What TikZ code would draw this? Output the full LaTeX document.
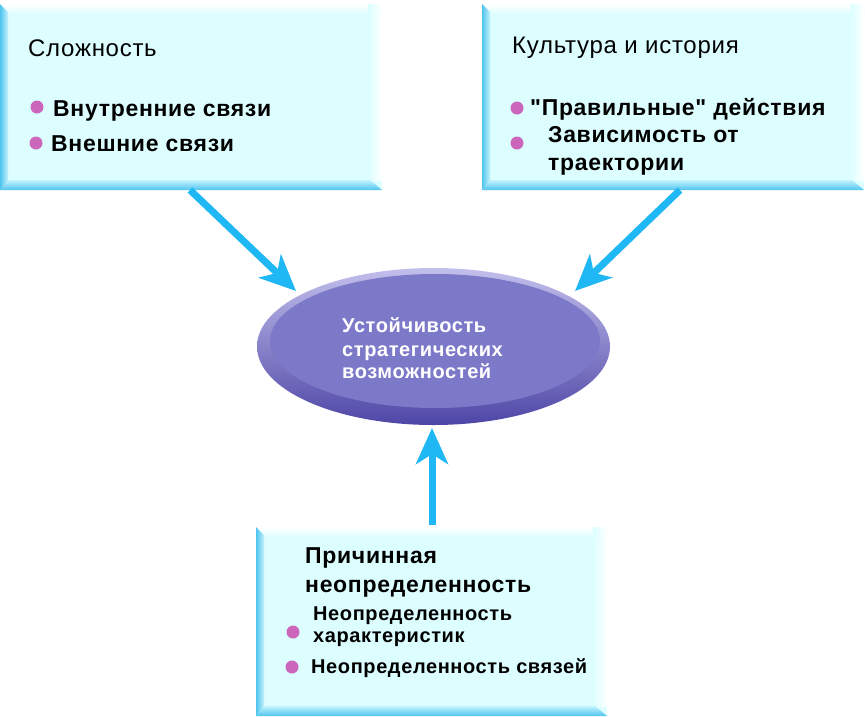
\documentclass[tikz,border=0pt]{standalone}
\usepackage{fontspec}
\setmainfont{Liberation Sans}
\usetikzlibrary{arrows.meta,shapes.geometric}
\definecolor{boxface}{HTML}{DCFEFF}
\definecolor{bevdark}{HTML}{50C4F0}
\definecolor{bevlight}{HTML}{C4F3FC}
\definecolor{arrcol}{HTML}{20B8F4}
\definecolor{dotcol}{HTML}{CC66BB}
\definecolor{ellface}{HTML}{7D79C9}
\definecolor{elltop}{HTML}{C2BFEC}
\definecolor{ellmid}{HTML}{A09DDB}
\definecolor{ellbot}{HTML}{4E46A6}
\newcommand\bevbox[5]{%
  \pgfmathsetmacro\bw{#4-#2}\pgfmathsetmacro\bh{#5-#3}%
  \node[inner sep=0pt, outer sep=0pt, minimum width=\bw pt, minimum height=\bh pt,
        fill=boxface, anchor=north west] (#1) at (#2,#3) {};
  \shade[top color=white, bottom color=boxface] (#2,#3) rectangle (#4,#3+10);
  \shade[left color=boxface, right color=white] (#4-14,#3) rectangle (#4,#5-10);
  \shade[left color=bevdark, right color=bevlight] (#2,#3) -- (#2+8,#3+8) -- (#2+8,#5-10) -- (#2,#5) -- cycle;
  \shade[top color=bevlight, bottom color=bevdark] (#2,#5) -- (#2+8,#5-10) -- (#4-12,#5-10) -- (#4,#5) -- cycle;
}
\begin{document}
\begin{tikzpicture}[x=1pt,y=-1pt,
  reg/.style={anchor=base west, inner sep=0pt, font=\fontsize{24}{28}\selectfont\addfontfeature{LetterSpace=3}},
  bld/.style={anchor=base west, inner sep=0pt, font=\fontsize{23}{27}\selectfont\bfseries\addfontfeature{LetterSpace=3}},
  sml/.style={anchor=base west, inner sep=0pt, font=\fontsize{20}{23}\selectfont\bfseries\addfontfeature{LetterSpace=3}},
  wht/.style={anchor=base west, inner sep=0pt, text=white, font=\fontsize{20}{23}\selectfont\bfseries\addfontfeature{LetterSpace=3}},
  dot/.style={circle, fill=dotcol, inner sep=0pt, minimum size=13pt},
  arr/.style={draw=arrcol, line width=7pt, -{Stealth[length=36pt, width=32pt, inset=10pt]}}]
\useasboundingbox (0,0) rectangle (865,716);
\fill[white] (0,0) rectangle (865,716);

% boxes
\bevbox{box1}{0}{4}{382}{190}
\bevbox{box2}{482}{4}{864}{190}
\bevbox{box3}{256}{527}{607}{716}

% ellipse
\node[ellipse, inner sep=0pt, minimum width=353pt, minimum height=157pt,
      top color=elltop, middle color=ellmid, bottom color=ellbot] (ell) at (433.5,346.5) {};
\fill[ellface] (435,341) ellipse [x radius=165pt, y radius=67pt];

% arrows
\coordinate (s1) at (190,190);
\coordinate (t1) at (296,291);
\coordinate (s2) at (680,190);
\coordinate (t2) at (575,291);
\coordinate (s3) at (432,525);
\coordinate (t3) at (432,428);
\draw[arr] (s1) -- (t1);
\draw[arr] (s2) -- (t2);
\draw[arr] (s3) -- (t3);

% box1 text
\node[reg] (b1t) at (28,56) {Сложность};
\node[dot] (b1d1) at (37,107) {};
\node[bld] (b1a) at (53,116) {Внутренние связи};
\node[dot] (b1d2) at (36,143) {};
\node[bld] (b1b) at (51,151) {Внешние связи};

% box2 text
\node[reg] (b2t) at (512,53) {Культура и история};
\node[dot] (b2d1) at (517,108) {};
\node[bld] (b2a) at (530,115) {\addfontfeature{Ligatures=TeXOff}"Правильные" действия};
\node[dot] (b2d2) at (517,143) {};
\node[bld] (b2b) at (548,142) {Зависимость от};
\node[bld] (b2c) at (548,170) {траектории};

% ellipse text
\node[wht] (e1) at (342,332) {Устойчивость};
\node[wht] (e2) at (342,356) {стратегических};
\node[wht] (e3) at (342,378) {возможностей};

% box3 text
\node[bld] (b3t1) at (305,563) {Причинная};
\node[bld] (b3t2) at (305,592) {неопределенность};
\node[sml] (b3a1) at (313,620) {Неопределенность};
\node[sml] (b3a2) at (313,642) {характеристик};
\node[dot] (b3d1) at (293,632) {};
\node[dot] (b3d2) at (292,667) {};
\node[sml] (b3b) at (311,673) {Неопределенность связей};
\end{tikzpicture}
\end{document}
